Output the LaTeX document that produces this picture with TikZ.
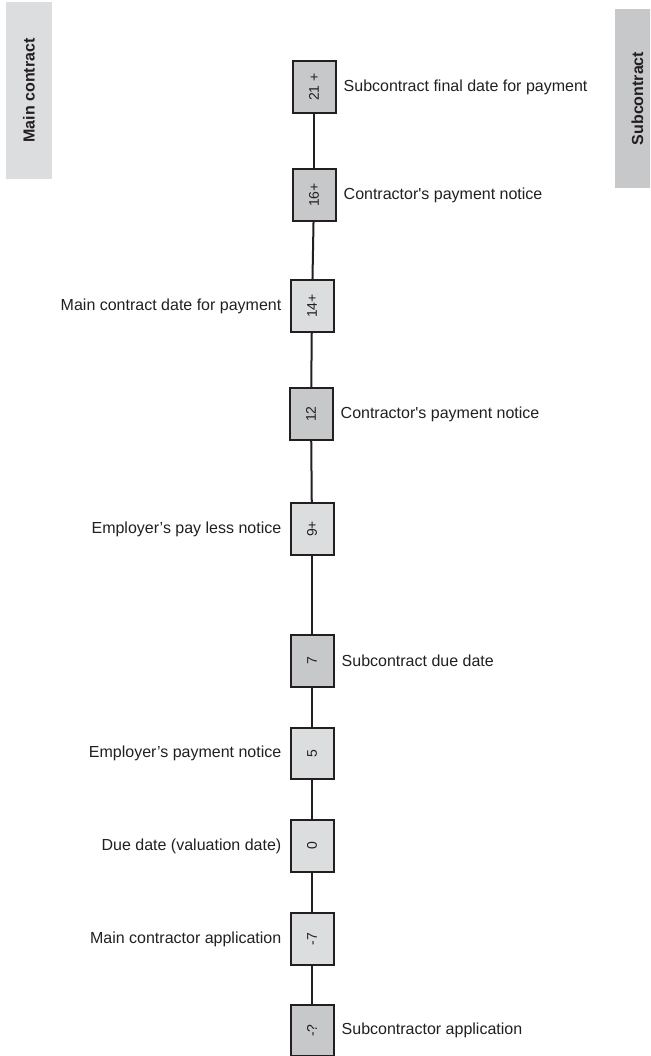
\documentclass[tikz,border=0pt]{standalone}
\usepackage{graphicx}
\usepackage{fontspec}
\setmainfont{Liberation Sans}[Ligatures=TeXOff]
\definecolor{lightfill}{RGB}{220,221,223}
\definecolor{darkfill}{RGB}{199,200,202}
\definecolor{ink}{RGB}{35,31,32}
\begin{document}
\begin{tikzpicture}[x=1pt,y=-1pt,
  stage/.style={draw=ink, line width=2pt, minimum width=43pt, minimum height=51.5pt,
    inner sep=0pt, text=ink, font=\fontsize{14}{16}\selectfont},
  mainstage/.style={stage, fill=lightfill},
  substage/.style={stage, fill=darkfill},
  header/.style={inner sep=0pt, text=ink, font=\fontsize{16}{19}\selectfont\bfseries},
  caption/.style={inner sep=0pt, text=ink, font=\fontsize{16}{19}\selectfont},
  link/.style={draw=ink, line width=2pt}
]
\useasboundingbox (0,0) rectangle (650,1056);
\clip (0,0) rectangle (650,1056);

% column headers
\node[header, fill=lightfill, minimum width=46pt, minimum height=177pt] (mainhead) at (29,90.5)
  {\rotatebox{90}{Main contract}};
\node[header, fill=darkfill, minimum width=45pt, minimum height=179pt] (subhead) at (637.5,98.5)
  {\rotatebox{90}{Subcontract}};

% timeline stages (days)
\node[substage]  (d21)  at (314,87)     {\rotatebox{90}{21 +}};
\node[substage]  (d16)  at (314,195)    {\rotatebox{90}{16+}};
\node[mainstage] (d14)  at (312,306)    {\rotatebox{90}{14+}};
\node[substage]  (d12)  at (311,414)    {\rotatebox{90}{12}};
\node[mainstage] (d9)   at (312,529)    {\rotatebox{90}{9+}};
\node[substage]  (d7)   at (312,661)    {\rotatebox{90}{7}};
\node[mainstage] (d5)   at (312,753.5)  {\rotatebox{90}{5}};
\node[mainstage] (d0)   at (312,846)    {\rotatebox{90}{0}};
\node[mainstage] (dm7)  at (312,939)    {\rotatebox{90}{-7}};
\node[substage]  (dmq)  at (312,1030.5) {\rotatebox{90}{-?}};

% connectors
\draw[link] (d21) -- (d16);
\draw[link] (d16) -- (d14);
\draw[link] (d14) -- (d12);
\draw[link] (d12) -- (d9);
\draw[link] (d9) -- (d7);
\draw[link] (d7) -- (d5);
\draw[link] (d5) -- (d0);
\draw[link] (d0) -- (dm7);
\draw[link] (dm7) -- (dmq);

% subcontract events (right)
\node[caption, anchor=west] (l21) at ([xshift=7pt]d21.east) {Subcontract final date for payment};
\node[caption, anchor=west] (l16) at ([xshift=7pt]d16.east) {Contractor's payment notice};
\node[caption, anchor=west] (l12) at ([xshift=7pt]d12.east) {Contractor's payment notice};
\node[caption, anchor=west] (l7)  at ([xshift=7pt]d7.east)  {Subcontract due date};
\node[caption, anchor=west] (lmq) at ([xshift=7pt]dmq.east) {Subcontractor application};

% main contract events (left)
\node[caption, anchor=east] (l14) at ([xshift=-8pt]d14.west) {Main contract date for payment};
\node[caption, anchor=east] (l9)  at ([xshift=-8pt]d9.west)  {Employer’s pay less notice};
\node[caption, anchor=east] (l5)  at ([xshift=-8pt]d5.west)  {Employer’s payment notice};
\node[caption, anchor=east] (l0)  at ([xshift=-8pt]d0.west)  {Due date (valuation date)};
\node[caption, anchor=east] (lm7) at ([xshift=-8pt]dm7.west) {Main contractor application};
\end{tikzpicture}
\end{document}
